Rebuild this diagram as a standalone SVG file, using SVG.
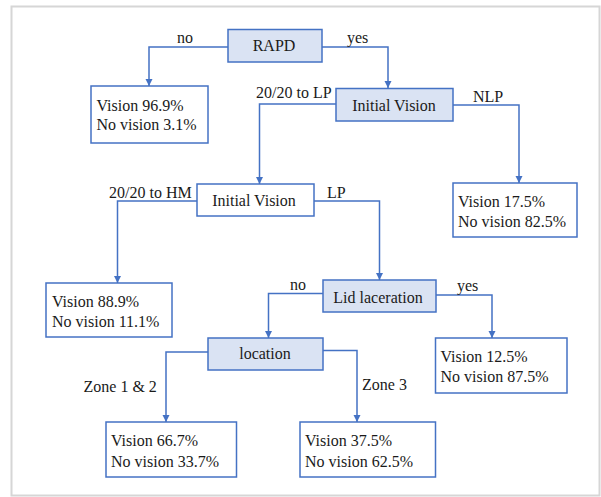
<svg xmlns="http://www.w3.org/2000/svg" width="601" height="497" viewBox="0 0 601 497">
<defs>
<style>
.frame{fill:#fff;stroke:#d6d6d6;stroke-width:2}
.dec{fill:#dae3f3;stroke:#4472c4;stroke-width:1.5}
.plain{fill:#fff;stroke:#4472c4;stroke-width:1.5}
.leaf{fill:#fff;stroke:#4472c4;stroke-width:1.5}
.edge{fill:none;stroke:#4472c4;stroke-width:1.5}
.t{font-family:'Liberation Serif','Times New Roman',serif;font-size:16px;fill:#1a1a1a}
.c{text-anchor:middle}
</style>
<marker id="arr" viewBox="0 0 10 10" refX="10" refY="5" markerWidth="5" markerHeight="5" orient="auto" markerUnits="strokeWidth">
<path d="M0,0 L10,5 L0,10 z" fill="#4472c4"/>
</marker>
</defs>
<rect class="frame" x="11.5" y="6.5" width="588" height="489"/>
<g id="connectors">
<path class="edge" d="M228,47 H149 V86" marker-end="url(#arr)"/>
<path class="edge" d="M322,47 H388 V88" marker-end="url(#arr)"/>
<path class="edge" d="M453,105 H519 V183" marker-end="url(#arr)"/>
<path class="edge" d="M336,104 H259.5 V184" marker-end="url(#arr)"/>
<path class="edge" d="M197,201 H117.5 V283" marker-end="url(#arr)"/>
<path class="edge" d="M314,201 H379.5 V280" marker-end="url(#arr)"/>
<path class="edge" d="M323,293.5 H268.5 V338" marker-end="url(#arr)"/>
<path class="edge" d="M436,295 H492 V338" marker-end="url(#arr)"/>
<path class="edge" d="M208,352 H166 V422" marker-end="url(#arr)"/>
<path class="edge" d="M323,350.5 H357 V422" marker-end="url(#arr)"/>
<text class="t" x="177" y="43">no</text>
<text class="t" x="347" y="43">yes</text>
<text class="t" x="256" y="97.5">20/20 to LP</text>
<text class="t" x="473" y="102">NLP</text>
<text class="t" x="109" y="198">20/20 to HM</text>
<text class="t" x="327" y="197.5">LP</text>
<text class="t" x="290" y="290">no</text>
<text class="t" x="457" y="291">yes</text>
<text class="t" x="83.5" y="392">Zone 1 &amp; 2</text>
<text class="t" x="362" y="390">Zone 3</text>
</g>
<g id="rapd">
<rect class="dec" x="228" y="29.5" width="94" height="32.5"/>
<text class="t c" x="274" y="51">RAPD</text>
</g>
<g id="leaf-rapd-no">
<rect class="leaf" x="91" y="86" width="117" height="57"/>
<text class="t" x="96.5" y="110.5">Vision 96.9%</text>
<text class="t" x="96.5" y="130">No vision 3.1%</text>
</g>
<g id="initial-vision-1">
<rect class="dec" x="336" y="88.5" width="117" height="32.5"/>
<text class="t c" x="394" y="111">Initial Vision</text>
</g>
<g id="leaf-nlp">
<rect class="leaf" x="453" y="183" width="124" height="54"/>
<text class="t" x="458" y="206.5">Vision 17.5%</text>
<text class="t" x="458" y="227">No vision 82.5%</text>
</g>
<g id="initial-vision-2">
<rect class="plain" x="197" y="184" width="117" height="32"/>
<text class="t c" x="254" y="206">Initial Vision</text>
</g>
<g id="leaf-hm">
<rect class="leaf" x="46" y="283" width="126" height="54"/>
<text class="t" x="52" y="306.5">Vision 88.9%</text>
<text class="t" x="52" y="326.5">No vision 11.1%</text>
</g>
<g id="lid-laceration">
<rect class="dec" x="323" y="280" width="113" height="32"/>
<text class="t c" x="378" y="302.5">Lid laceration</text>
</g>
<g id="leaf-lid-yes">
<rect class="leaf" x="435.5" y="338" width="131.5" height="55"/>
<text class="t" x="440.5" y="361.5">Vision 12.5%</text>
<text class="t" x="440.5" y="381.5">No vision 87.5%</text>
</g>
<g id="location">
<rect class="dec" x="208" y="338" width="115" height="32"/>
<text class="t c" x="265" y="359">location</text>
</g>
<g id="leaf-zone12">
<rect class="leaf" x="106" y="422" width="130.5" height="55"/>
<text class="t" x="111" y="445.5">Vision 66.7%</text>
<text class="t" x="111" y="466.5">No vision 33.7%</text>
</g>
<g id="leaf-zone3">
<rect class="leaf" x="300" y="422" width="135.5" height="55"/>
<text class="t" x="305" y="445.5">Vision 37.5%</text>
<text class="t" x="305" y="466.5">No vision 62.5%</text>
</g>
</svg>
